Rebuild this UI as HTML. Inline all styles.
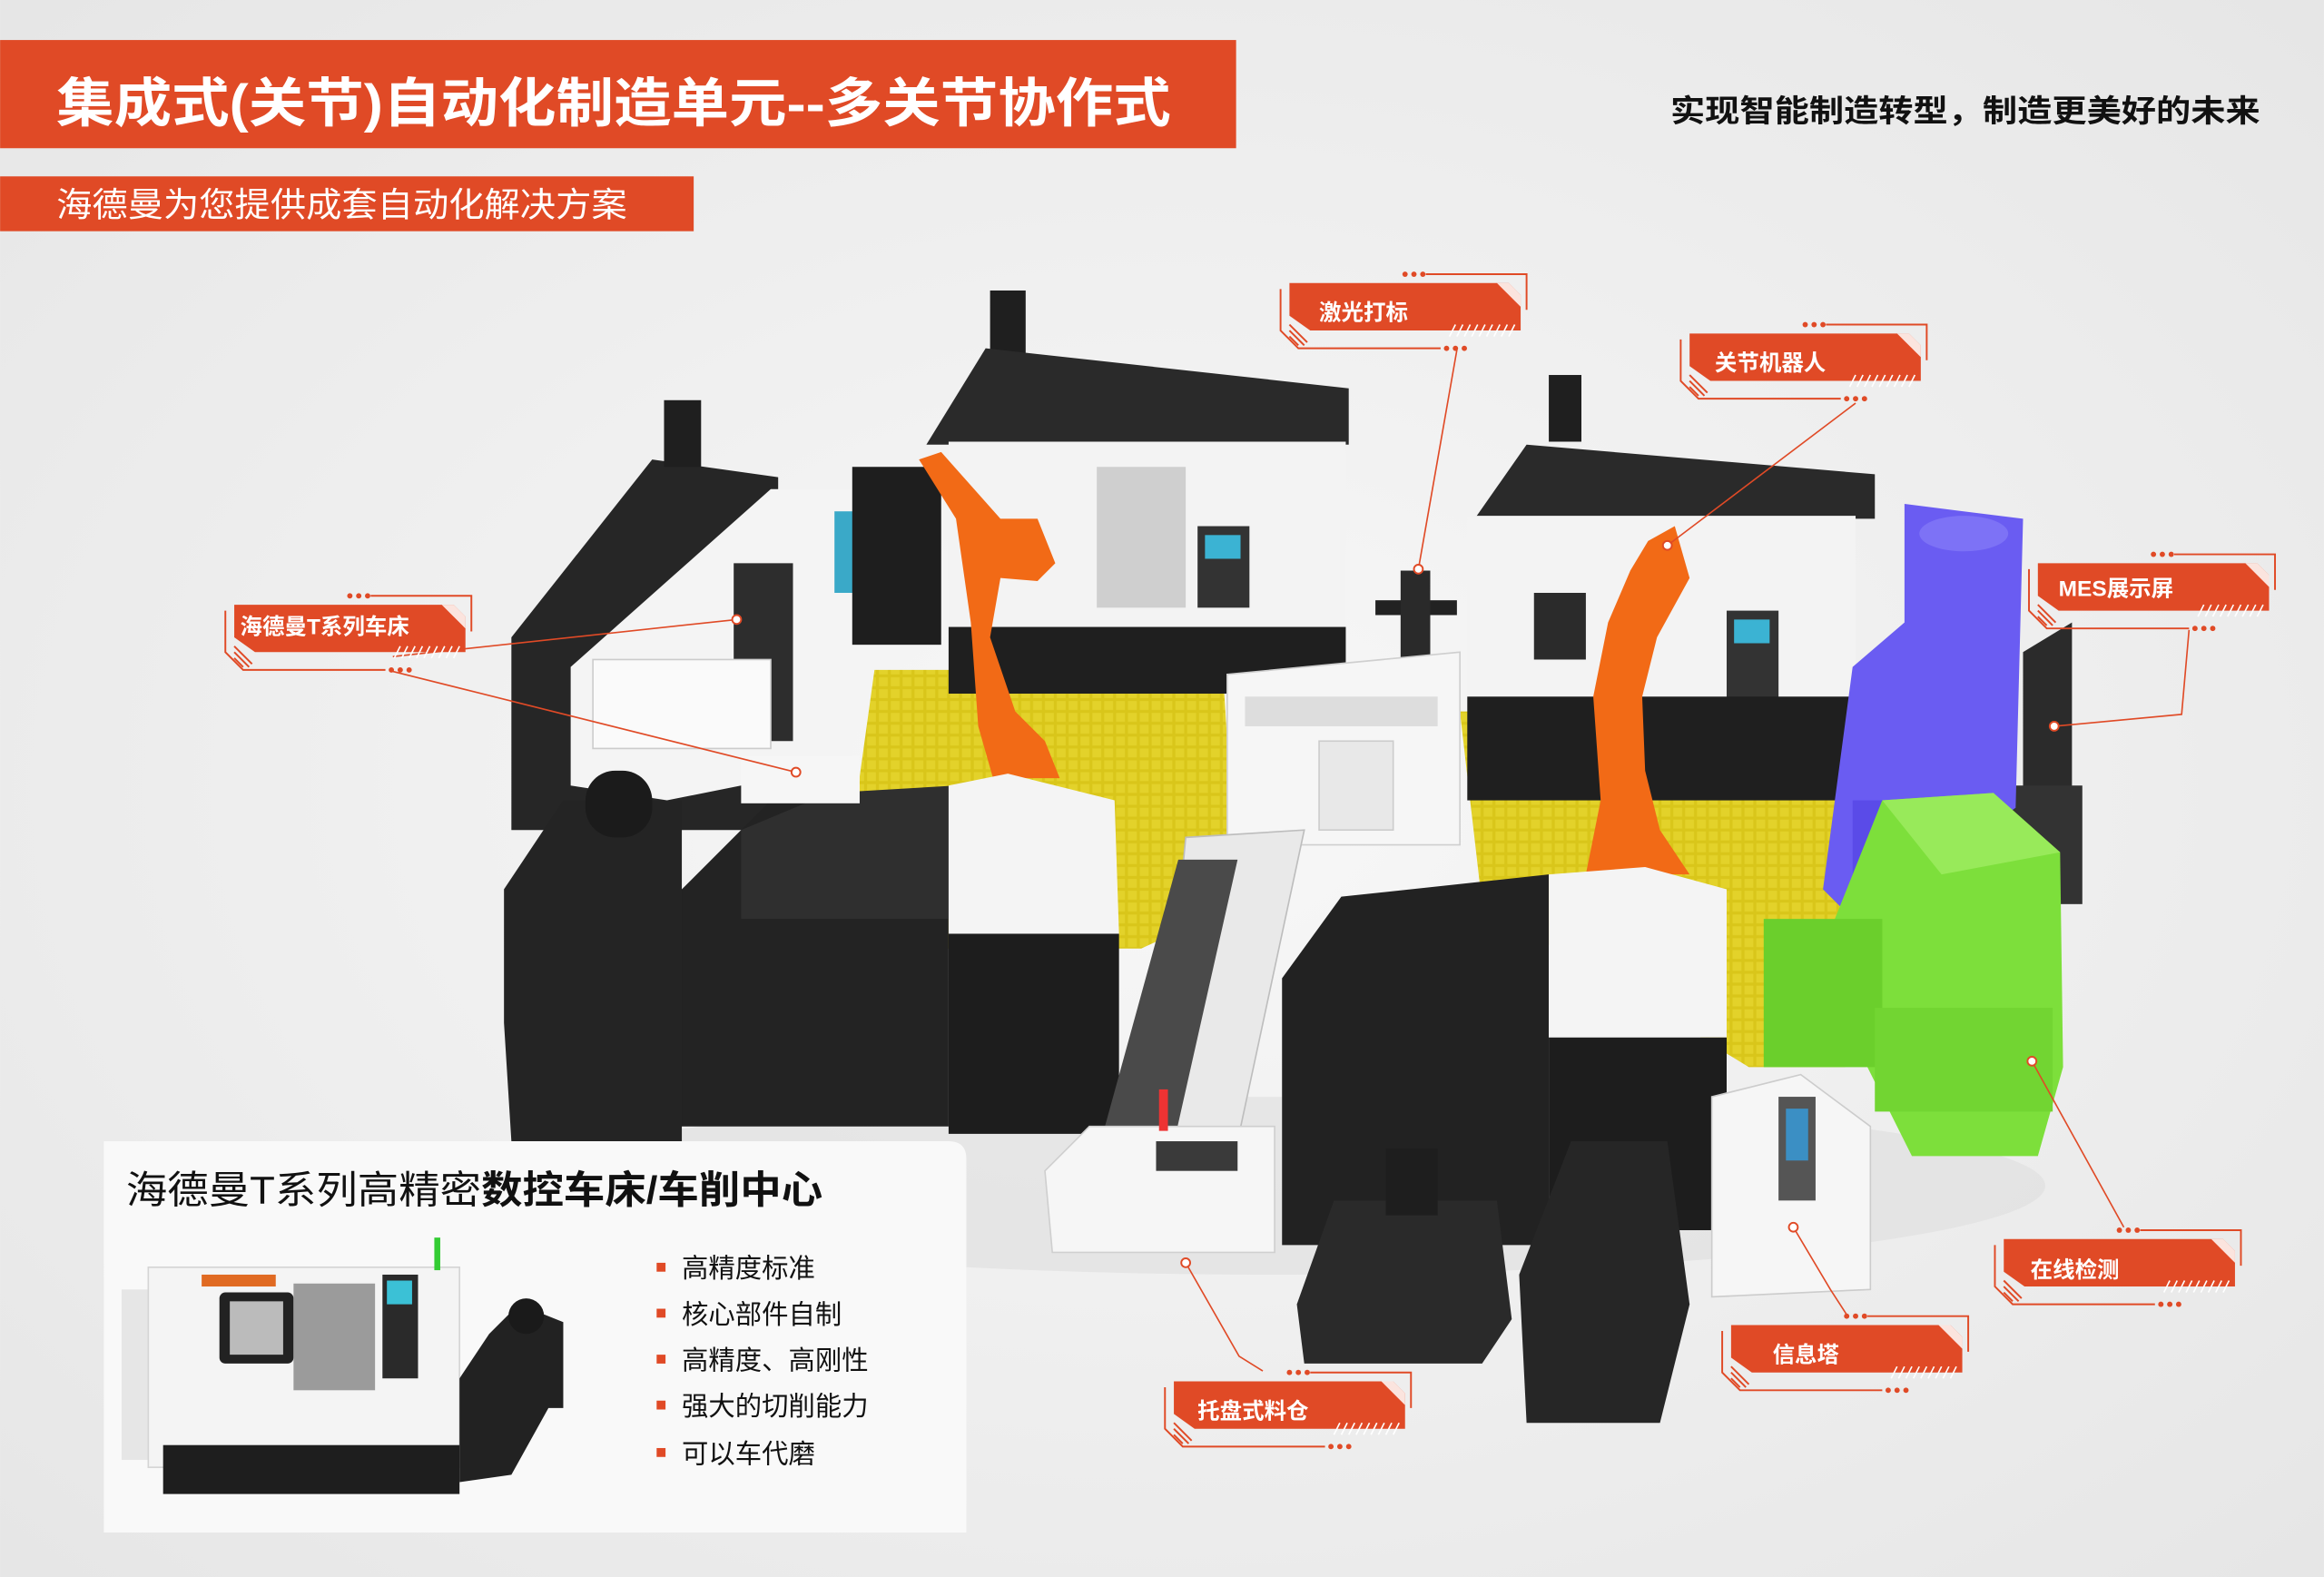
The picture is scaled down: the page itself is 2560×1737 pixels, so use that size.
<!DOCTYPE html>
<html><head><meta charset="utf-8"><style>
html,body{margin:0;padding:0;width:2560px;height:1737px;overflow:hidden;background:#efefef}
svg{display:block}
text{font-family:"Liberation Sans","Noto Sans CJK SC",sans-serif}
</style></head><body>
<svg width="2560" height="1737" viewBox="0 0 1568 1064" xmlns="http://www.w3.org/2000/svg">
<defs>
<radialGradient id="bg" cx="0.5" cy="0.5" r="0.7"><stop offset="0" stop-color="#f8f8f8"/><stop offset="1" stop-color="#e6e6e6"/></radialGradient>
<pattern id="grid" width="8" height="8" patternUnits="userSpaceOnUse"><rect width="8" height="8" fill="#d9c61a"/><rect x="1" y="1" width="6" height="6" fill="#e3d22a"/></pattern>
<g id="lab">
<polyline points="4,12 4,40 16,52 112,52" fill="none" stroke="#e04a26" stroke-width="1.2"/>
<circle cx="116" cy="52" r="1.8" fill="#e04a26"/><circle cx="122" cy="52" r="1.8" fill="#e04a26"/><circle cx="128" cy="52" r="1.8" fill="#e04a26"/>
<circle cx="88" cy="2" r="1.8" fill="#e04a26"/><circle cx="94" cy="2" r="1.8" fill="#e04a26"/><circle cx="100" cy="2" r="1.8" fill="#e04a26"/>
<polyline points="102,2 170,2 170,26" fill="none" stroke="#e04a26" stroke-width="1.2"/>
<polygon points="10,8 158,8 166,16 166,40 24,40 10,30" fill="#e04a26"/>
<polygon points="150,8 158,8 166,16 166,24" fill="#fff" opacity="0.85"/>
<g stroke="#e04a26" stroke-width="1.2"><line x1="10" y1="36" x2="22" y2="48"/><line x1="10" y1="40" x2="20" y2="50"/><line x1="10" y1="44" x2="16" y2="50"/></g>
<g stroke="#fff" stroke-width="1"><line x1="118" y1="44" x2="122" y2="36"/><line x1="123" y1="44" x2="127" y2="36"/><line x1="128" y1="44" x2="132" y2="36"/><line x1="133" y1="44" x2="137" y2="36"/><line x1="138" y1="44" x2="142" y2="36"/><line x1="143" y1="44" x2="147" y2="36"/><line x1="148" y1="44" x2="152" y2="36"/><line x1="153" y1="44" x2="157" y2="36"/><line x1="158" y1="44" x2="162" y2="36"/></g>
<rect x="114" y="40" width="54" height="6" fill="none"/>
</g>
</defs>
<rect width="1568" height="1064" fill="url(#bg)"/>

<!-- header -->
<rect x="0" y="27" width="834" height="73" fill="#e04a26"/>
<text x="38" y="82" font-size="36" font-weight="bold" fill="#fff" textLength="752" lengthAdjust="spacingAndGlyphs">集成式(关节)自动化制造单元--多关节协作式</text>
<rect x="0" y="119" width="468" height="37" fill="#e04a26"/>
<text x="38" y="146" font-size="23" fill="#fff" textLength="385" lengthAdjust="spacingAndGlyphs">海德曼为您提供成套自动化解决方案</text>
<text x="1127" y="82" font-size="21" font-weight="bold" fill="#111" textLength="398" lengthAdjust="spacingAndGlyphs">实现智能制造转型，制造更美好的未来</text>

<!-- floor -->
<polygon points="590,452 825,452 835,610 770,640 600,640 575,560" fill="url(#grid)"/>
<polygon points="985,480 1240,480 1245,720 1180,720 1000,610" fill="url(#grid)"/>
<ellipse cx="860" cy="800" rx="520" ry="60" fill="#dedede" opacity="0.6"/>

<!-- back left lathe -->
<polygon points="345,430 440,310 525,322 525,560 345,560" fill="#262626"/>
<polygon points="385,450 520,330 575,330 575,515 450,540 385,530" fill="#f4f4f4"/>
<rect x="495" y="380" width="40" height="120" fill="#2d2d2d"/>
<rect x="563" y="345" width="14" height="55" fill="#3aa9c8"/>
<rect x="575" y="315" width="60" height="120" fill="#1e1e1e"/>
<rect x="448" y="270" width="25" height="45" fill="#1f1f1f"/>
<rect x="400" y="445" width="120" height="60" fill="#fafafa" stroke="#ccc"/>
<!-- back center lathe -->
<rect x="668" y="196" width="24" height="45" fill="#1f1f1f"/>
<polygon points="625,300 665,235 910,262 910,300" fill="#2a2a2a"/>
<rect x="640" y="298" width="268" height="125" fill="#f3f3f3"/>
<rect x="740" y="315" width="60" height="95" fill="#cfcfcf"/>
<rect x="808" y="355" width="35" height="55" fill="#333"/>
<rect x="813" y="361" width="24" height="16" fill="#3bb3d3"/>
<rect x="640" y="423" width="268" height="45" fill="#1f1f1f"/>
<!-- back right lathe -->
<rect x="1045" y="253" width="22" height="45" fill="#1f1f1f"/>
<polygon points="995,350 1030,300 1265,320 1265,350" fill="#2a2a2a"/>
<rect x="990" y="348" width="262" height="122" fill="#f3f3f3"/>
<rect x="1035" y="400" width="35" height="45" fill="#2b2b2b"/>
<rect x="1165" y="412" width="35" height="60" fill="#333"/>
<rect x="1170" y="418" width="24" height="16" fill="#3bb3d3"/>
<rect x="990" y="470" width="262" height="70" fill="#1f1f1f"/>
<!-- laser station -->
<rect x="928" y="405" width="55" height="10" fill="#222"/>
<rect x="945" y="385" width="20" height="60" fill="#2a2a2a"/>
<polygon points="828,455 985,440 985,570 828,570" fill="#f6f6f6" stroke="#cfcfcf"/>
<rect x="840" y="470" width="130" height="20" fill="#ddd"/>
<rect x="890" y="500" width="50" height="60" fill="#e8e8e8" stroke="#ccc"/>
<!-- MES -->
<polygon points="1365,440 1398,420 1398,545 1365,560" fill="#2b2b2b"/>
<rect x="1355" y="530" width="50" height="80" fill="#333"/>
<!-- blue machine -->
<polygon points="1285,340 1365,350 1360,545 1250,620 1230,600 1250,450 1285,420" fill="#6a5cf2"/>
<ellipse cx="1325" cy="360" rx="30" ry="12" fill="#7d72f6"/>
<rect x="1250" y="540" width="50" height="80" fill="#5a4be8"/>
<!-- green machine -->
<polygon points="1270,540 1345,535 1390,575 1392,720 1375,780 1290,780 1250,700 1230,640" fill="#7ddf3b"/>
<polygon points="1270,540 1345,535 1390,575 1310,590" fill="#98ea5a"/>
<rect x="1190" y="620" width="80" height="100" fill="#6bcf2c"/>
<rect x="1265" y="680" width="120" height="70" fill="#72d532"/>
<!-- robots -->
<g fill="#f26a16">
<polygon points="620,310 635,305 675,350 700,350 712,380 700,392 675,390 668,430 685,480 705,500 715,525 670,525 660,490 655,420 645,350"/>
<polygon points="1112,365 1130,355 1140,390 1118,430 1108,470 1110,520 1120,560 1140,590 1070,590 1080,540 1075,470 1085,420 1100,385"/>
</g>
<!-- front left lathe -->
<polygon points="455,605 520,540 640,540 640,760 455,760" fill="#232323"/>
<polygon points="500,560 560,535 645,530 645,620 500,620" fill="#2f2f2f"/>
<polygon points="640,530 680,522 752,540 755,630 640,630" fill="#f4f4f4"/>
<rect x="500" y="510" width="80" height="32" fill="#f6f6f6"/>
<rect x="640" y="630" width="115" height="135" fill="#1d1d1d"/>
<!-- chip conveyor left -->
<polygon points="340,600 380,540 460,540 460,770 345,770 340,690" fill="#242424"/>
<rect x="395" y="520" width="45" height="45" rx="20" fill="#1b1b1b"/>
<!-- tray conveyor -->
<polygon points="800,565 880,560 835,770 780,780" fill="#e9e9e9" stroke="#bdbdbd"/>
<polygon points="795,580 835,580 790,780 740,780" fill="#4a4a4a"/>
<polygon points="735,760 860,760 860,845 710,845 705,790" fill="#f6f6f6" stroke="#cfcfcf"/>
<rect x="780" y="770" width="55" height="20" fill="#3a3a3a"/>
<rect x="782" y="735" width="6" height="28" fill="#e33"/>
<!-- front right lathe -->
<polygon points="865,660 905,605 1045,590 1045,840 865,840" fill="#222"/>
<polygon points="1045,590 1110,585 1165,600 1165,700 1045,700" fill="#f4f4f4"/>
<rect x="1045" y="700" width="120" height="130" fill="#1d1d1d"/>
<!-- carts -->
<polygon points="875,880 900,810 1010,810 1020,890 1000,920 880,920" fill="#2a2a2a"/>
<rect x="935" y="775" width="35" height="45" fill="#1e1e1e"/>
<polygon points="1025,860 1060,770 1125,770 1140,880 1120,960 1030,960" fill="#262626"/>
<!-- info tower -->
<polygon points="1155,740 1215,725 1262,760 1262,870 1155,875" fill="#f6f6f6" stroke="#ccc"/>
<rect x="1200" y="740" width="25" height="70" fill="#555"/>
<rect x="1205" y="748" width="15" height="35" fill="#3b8fc4"/>

<!-- leader lines -->
<g stroke="#e04a26" stroke-width="1" fill="none">
<line x1="265" y1="443" x2="497" y2="418"/>
<line x1="265" y1="453" x2="537" y2="521"/>
<line x1="983" y1="236" x2="957" y2="384"/>
<line x1="1252" y1="272" x2="1125" y2="368"/>
<polyline points="1477,425 1472,482 1386,490"/>
<line x1="1433" y1="828" x2="1371" y2="716"/>
<polyline points="1246,887 1235,870 1210,828"/>
<polyline points="852,925 836,915 800,852"/>
</g>
<g fill="#fff" stroke="#e04a26" stroke-width="1.2">
<circle cx="497" cy="418" r="3"/><circle cx="537" cy="521" r="3"/><circle cx="957" cy="384" r="3"/><circle cx="1125" cy="368" r="3"/><circle cx="1386" cy="490" r="3"/><circle cx="1371" cy="716" r="3"/><circle cx="1210" cy="828" r="3"/><circle cx="800" cy="852" r="3"/>
</g>

<!-- labels -->
<use href="#lab" x="860" y="183"/><text x="890" y="216" font-size="15" font-weight="bold" fill="#fff">激光打标</text>
<use href="#lab" x="1130" y="217"/><text x="1157" y="250" font-size="15" font-weight="bold" fill="#fff">关节机器人</text>
<use href="#lab" x="148" y="400"/><text x="162" y="428" font-size="15" font-weight="bold" fill="#fff">海德曼T系列车床</text>
<use href="#lab" x="1365" y="372"/><text x="1389" y="402" font-size="15" font-weight="bold" fill="#fff">MES展示屏</text>
<use href="#lab" x="1342" y="828"/><text x="1370" y="862" font-size="15" font-weight="bold" fill="#fff">在线检测</text>
<use href="#lab" x="1158" y="886"/><text x="1196" y="919" font-size="15" font-weight="bold" fill="#fff">信息塔</text>
<use href="#lab" x="782" y="924"/><text x="808" y="957" font-size="15" font-weight="bold" fill="#fff">托盘式料仓</text>

<!-- card -->
<path d="M70,770 H640 Q652,770 652,782 V1034 H70 Z" fill="#f9f9f9"/>
<text x="85" y="812" font-size="26" fill="#111" textLength="470" lengthAdjust="spacingAndGlyphs">海德曼T系列高精密<tspan font-weight="bold">数控车床/车削中心</tspan></text>
<!-- small lathe -->
<rect x="82" y="870" width="30" height="115" fill="#e6e6e6"/>
<rect x="100" y="855" width="210" height="135" fill="#f4f4f4" stroke="#d5d5d5"/>
<rect x="136" y="860" width="50" height="8" fill="#e06a22"/>
<rect x="148" y="872" width="50" height="48" rx="4" fill="#222"/>
<rect x="155" y="878" width="36" height="36" fill="#bbb"/>
<rect x="198" y="866" width="55" height="72" fill="#9b9b9b"/>
<rect x="258" y="860" width="24" height="70" fill="#2a2a2a"/>
<rect x="261" y="864" width="17" height="16" fill="#3bc1d6"/>
<rect x="293" y="835" width="4" height="22" fill="#3c3"/>
<rect x="110" y="975" width="200" height="33" fill="#1e1e1e"/>
<polygon points="310,930 330,900 350,880 380,892 380,950 370,950 345,995 310,1000" fill="#222"/>
<circle cx="355" cy="888" r="12" fill="#1a1a1a"/>
<g fill="#e04a26"><rect x="443" y="852" width="6" height="6"/><rect x="443" y="883" width="6" height="6"/><rect x="443" y="914" width="6" height="6"/><rect x="443" y="945" width="6" height="6"/><rect x="443" y="977" width="6" height="6"/></g>
<g font-size="18" fill="#111">
<text x="460" y="862">高精度标准</text>
<text x="460" y="893">核心部件自制</text>
<text x="460" y="924">高精度、高刚性</text>
<text x="460" y="955">强大的切削能力</text>
<text x="460" y="987">可以车代磨</text>
</g>
</svg>
</body></html>
